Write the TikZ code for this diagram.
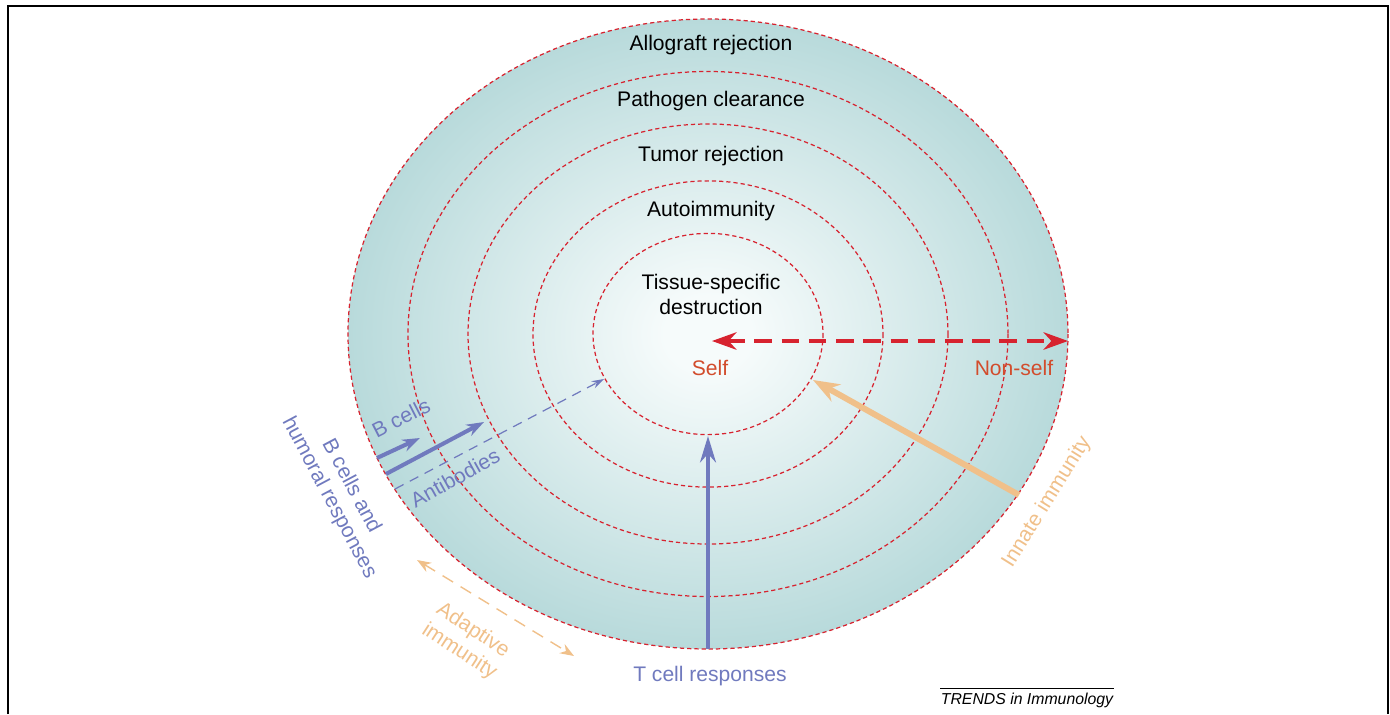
\documentclass[tikz,border=0pt]{standalone}
\usepackage{fontspec}
\setmainfont{Liberation Sans}
\usetikzlibrary{arrows.meta}

\definecolor{ringred}{RGB}{215,35,47}
\definecolor{cellblue}{RGB}{112,122,190}
\definecolor{innatetan}{RGB}{240,192,138}
\definecolor{selfred}{RGB}{210,76,44}
\definecolor{rimteal}{RGB}{184,218,219}
\definecolor{coreteal}{RGB}{246,251,251}
\pgfdeclareradialshading{ringfill}{\pgfpoint{0bp}{0bp}}{color(0bp)=(coreteal); color(3bp)=(coreteal); color(25bp)=(rimteal); color(50bp)=(rimteal)}

\begin{document}
\begin{tikzpicture}[x=0.02cm, y=-0.02cm, font=\fontsize{12}{14.2}\selectfont,
  ring/.style={draw=ringred, line width=0.7pt, dash pattern=on 2.4pt off 1.7pt},
  bluetext/.style={text=cellblue},
  tantext/.style={text=innatetan}]
\useasboundingbox (0,0) rectangle (1390,714);
% frame
\draw[line width=1.2pt] (8,714)--(8,6)--(1388,6)--(1388,714);

% rings
\shade[shading=ringfill] (708,334) ellipse [x radius=360, y radius=315];
\foreach \r in {115,175,240,300,360}
  \draw[ring] (708,334) ellipse [x radius=\r, y radius=0.875*\r];

\node (allograft) at (711,45) {Allograft rejection};
\node (pathogen) at (711,101) {Pathogen clearance};
\node (tumor) at (711,156) {Tumor rejection};
\node (autoimm) at (711,211) {Autoimmunity};
\node[align=center] (tissue) at (711,294) {Tissue-specific\\destruction};

% self / non-self
\node[text=selfred] (self) at (710,368) {Self};
\node[text=selfred] (nonself) at (1014,368) {Non-self};
\coordinate (selfend) at (712,341);
\coordinate (nonselfend) at (1068,341);
\draw[ringred, line width=2pt, dash pattern=on 10pt off 5.5pt,
  {Stealth[length=14pt,width=10pt]}-{Stealth[length=14pt,width=10pt]}] (selfend) -- (nonselfend);

% T cells
\coordinate (tbase) at (708,649);
\coordinate (ttip) at (708,436);
\draw[cellblue, line width=2.8pt, -{Stealth[length=15pt,width=9pt]}] (tbase) -- (ttip);
\node[bluetext] (tcell) at (710,676) {T cell responses};

% innate
\coordinate (innbase) at (1019,495);
\coordinate (inntip) at (813,380);
\draw[innatetan, line width=3.4pt, -{Stealth[length=15pt,width=11pt]}] (innbase) -- (inntip);
\node[tantext, rotate=58] (innate) at (1047,502) {Innate immunity};

% B cells
\coordinate (bshortbase) at (377,458);
\coordinate (bshorttip) at (420,438);
\coordinate (blongbase) at (386,474);
\coordinate (blongtip) at (484,422);
\coordinate (abbase) at (395,489);
\coordinate (abtip) at (604,379);
\draw[cellblue, line width=2.3pt, -{Stealth[length=10pt,width=7pt]}] (bshortbase) -- (bshorttip);
\draw[cellblue, line width=2.3pt, -{Stealth[length=10pt,width=7pt]}] (blongbase) -- (blongtip);
\draw[cellblue, line width=0.7pt, dash pattern=on 5.5pt off 4pt, -{Stealth[length=7pt,width=4.5pt]}] (abbase) -- (abtip);
\node[bluetext, rotate=27] (bcells) at (401,418) {B cells};
\node[bluetext, rotate=29] (antibodies) at (455,478) {Antibodies};
\node[bluetext, rotate=-62, align=center] (humoral) at (340,492) {B cells and\\humoral responses};

% adaptive
\coordinate (adaptup) at (417,560);
\coordinate (adaptdown) at (574,656);
\draw[innatetan, line width=0.8pt, dash pattern=on 7pt off 5pt,
  {Stealth[length=8pt,width=6pt]}-{Stealth[length=8pt,width=6pt]}] (adaptup) -- (adaptdown);
\node[tantext, rotate=-33, align=center] (adaptive) at (466,641) {Adaptive\\immunity};

\draw[line width=0.4pt] (940,688) -- (1114,688);
\node[font=\fontsize{9}{11}\selectfont\itshape] (journal) at (1027,700) {TRENDS in Immunology};
\end{tikzpicture}
\end{document}
